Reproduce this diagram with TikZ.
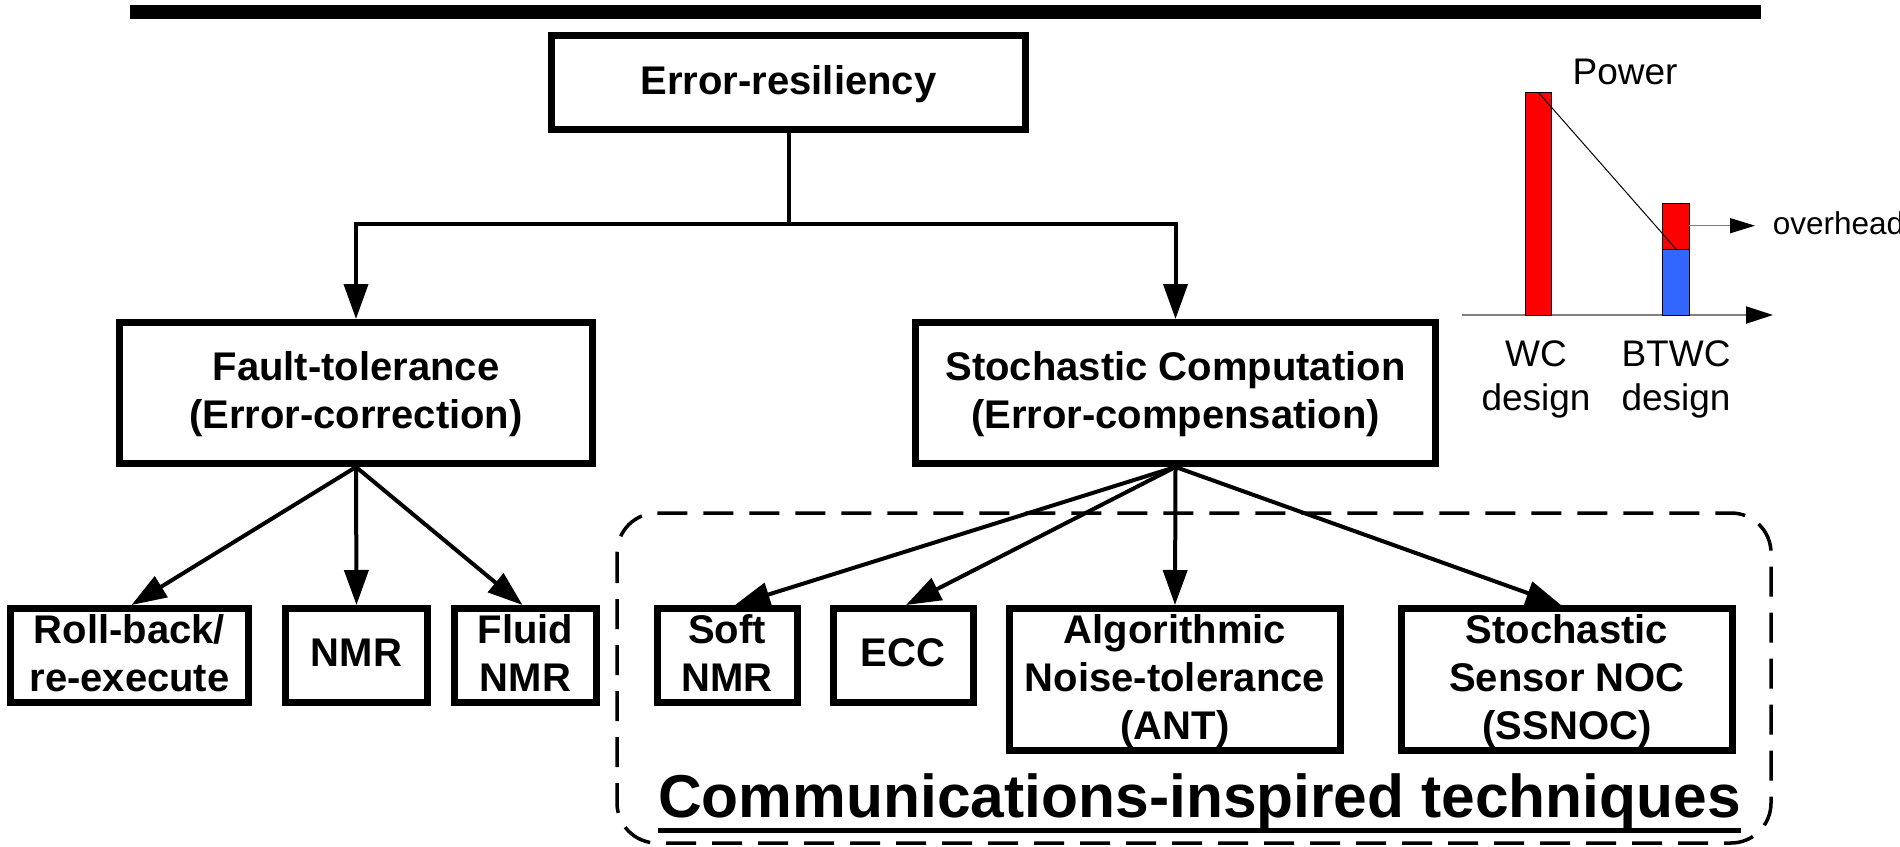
\documentclass[tikz,border=0pt]{standalone}
\usepackage{fontspec}
\setmainfont{Liberation Sans}
\usetikzlibrary{arrows.meta}
\definecolor{barred}{HTML}{FF0000}
\definecolor{barblue}{HTML}{3366FF}
\definecolor{axisgray}{HTML}{808080}
\begin{document}
\begin{tikzpicture}[x=1pt,y=-1pt,
  box/.style={draw, line width=7pt, inner sep=0pt, align=center,
    font=\fontsize{40}{48}\selectfont\bfseries, text depth=5pt},
  link/.style={line width=4pt, -{Triangle[length=35pt,width=24pt]}},
  chartlabel/.style={inner sep=0pt, font=\fontsize{37}{44}\selectfont},
  barline/.style={draw=black, line width=1pt},
  groupframe/.style={line width=3.5pt, dash pattern=on 30pt off 16pt, rounded corners=40pt}]
\useasboundingbox (0,0) rectangle (1900,846);

% heading rule
\fill (130,5) rectangle (1761,19);

% frame around the communications-inspired group
\draw[groupframe] (617,513) rectangle (1771,843);

% taxonomy boxes
\node[box, minimum width=474pt, minimum height=94pt] (err) at (788.5,82.5) {Error-resiliency};
\node[box, minimum width=473pt, minimum height=141pt] (ft) at (356,393) {Fault-tolerance\\(Error-correction)};
\node[box, minimum width=520pt, minimum height=141pt] (sc) at (1175.5,393) {Stochastic Computation\\(Error-compensation)};

\node[box, minimum width=238pt, minimum height=94pt] (roll) at (129.5,655.5) {Roll-back/\\re-execute};
\node[box, minimum width=142pt, minimum height=94pt] (nmr) at (356.5,655.5) {NMR};
\node[box, minimum width=142pt, minimum height=94pt] (fluid) at (525.5,655.5) {Fluid\\NMR};

\node[box, minimum width=140pt, minimum height=94pt] (soft) at (727,655.5) {Soft\\NMR};
\node[box, minimum width=140pt, minimum height=94pt] (ecc) at (903,655.5) {ECC};
\node[box, minimum width=331pt, minimum height=142pt] (ant) at (1175,679.5) {Algorithmic\\Noise-tolerance\\(ANT)};
\node[box, minimum width=331pt, minimum height=142pt] (ssnoc) at (1567,679.5) {Stochastic\\Sensor NOC\\(SSNOC)};

% tree connectors
\coordinate (bus) at (788.5,224);
\draw[line width=4pt] (err.south) -- (bus);
\draw[link] ([xshift=2pt]bus) -| (ft.north);
\draw[link] ([xshift=-2pt]bus) -| (sc.north);

\draw[link] (ft.south) -- ([xshift=2pt]roll.north);
\draw[link] (ft.south) -- (nmr.north);
\draw[link] (ft.south) -- ([xshift=-3pt]fluid.north);

\draw[link] (sc.south) -- ([xshift=8pt]soft.north);
\draw[link] (sc.south) -- ([xshift=3pt]ecc.north);
\draw[link] (sc.south) -- (ant.north);
\draw[link] (sc.south) -- ([xshift=-6pt]ssnoc.north);

% group caption
\node[inner sep=0pt, anchor=base, font=\fontsize{60.5}{72}\selectfont\bfseries] (comm) at (1199.5,817) {Communications-inspired techniques};
\draw[line width=5pt] ([yshift=-13.5pt]comm.base west) -- ([yshift=-13.5pt]comm.base east);

% power comparison chart
\draw[axisgray, line width=2pt, -{Triangle[length=27pt,width=17pt,color=black]}] (1462,315) -- (1773,315);
\filldraw[barline, fill=barred] (1525,92.3) rectangle (1551.7,315);
\filldraw[barline, fill=barred] (1662.7,203) rectangle (1689.3,249);
\filldraw[barline, fill=barblue] (1662.7,249) rectangle (1689.3,315);
\draw[line width=1pt] (1538.3,92.3) -- (1676,249);
\draw[axisgray, line width=1.5pt, -{Triangle[length=25pt,width=15pt,color=black]}] (1689.3,225.7) -- (1755,225.7);

\node[chartlabel, anchor=base] (power) at (1625,84) {Power};
\node[chartlabel, anchor=base] (wc) at (1536,366.7) {WC};
\node[chartlabel, anchor=base] (wcdesign) at (1536,410) {design};
\node[chartlabel, anchor=base] (btwc) at (1676,366.7) {BTWC};
\node[chartlabel, anchor=base] (btwcdesign) at (1676,410) {design};
\node[inner sep=0pt, anchor=base west, font=\fontsize{31.5}{38}\selectfont] (overhead) at (1772.7,234) {overhead};
\end{tikzpicture}
\end{document}
